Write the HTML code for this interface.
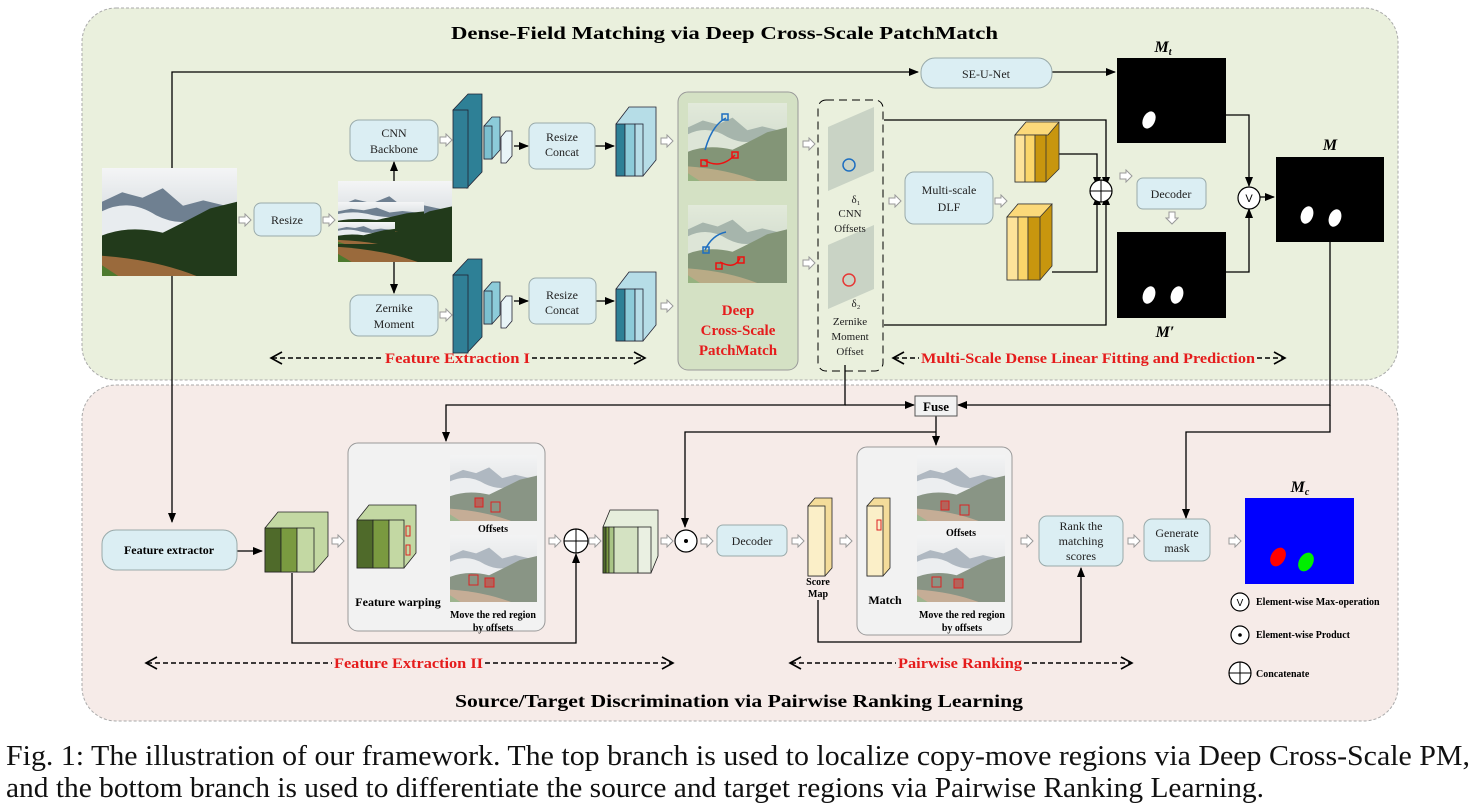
<!DOCTYPE html>
<html><head><meta charset="utf-8"><style>
body{margin:0;background:#fff;}
svg{display:block;font-family:"Liberation Serif",serif;}
</style></head><body>
<svg width="1478" height="808" viewBox="0 0 1478 808" xmlns="http://www.w3.org/2000/svg">
<defs>
<linearGradient id="sky" x1="0" y1="0" x2="0" y2="1">
<stop offset="0" stop-color="#f4f5f6"/><stop offset="0.35" stop-color="#dfe3e6"/><stop offset="1" stop-color="#c9cfd3"/></linearGradient>
<symbol id="photo" viewBox="0 0 100 80" preserveAspectRatio="none">
<rect width="100" height="80" fill="url(#sky)"/>
<path d="M0 25 L15 18 L30 22 L45 15 L60 28 L75 24 L100 30 L100 55 L0 55Z" fill="#6f8091"/>
<path d="M0 32 Q20 22 40 35 Q60 45 75 35 L100 40 L100 55 L0 55Z" fill="#e8ecef"/>
<path d="M0 55 L0 50 Q20 42 45 48 Q65 38 80 30 L100 25 L100 80 L0 80Z" fill="#223a1b"/>
<path d="M0 65 Q40 68 70 80 L0 80Z" fill="#9a6a3c"/>
<path d="M0 72 L0 80 L12 80Z" fill="#4d7a2e"/>
</symbol>
<symbol id="ha" viewBox="0 0 14 14"><path d="M1 4 H7 V1 L13 7 L7 13 V10 H1Z" fill="#fff" stroke="#999" stroke-width="1"/></symbol>
<symbol id="had" viewBox="0 0 14 14"><path d="M4 1 V7 H1 L7 13 L13 7 H10 V1Z" fill="#fff" stroke="#999" stroke-width="1"/></symbol>
<marker id="ar" markerWidth="10" markerHeight="8" refX="9" refY="4" orient="auto" markerUnits="userSpaceOnUse"><path d="M0 0 L10 4 L0 8Z" fill="#000"/></marker>
</defs>

<rect x="82" y="8" width="1316" height="372" rx="34" fill="#eaf0dd" stroke="#aaa" stroke-dasharray="3,2"/>
<rect x="82" y="385" width="1316" height="336" rx="34" fill="#f6ebe8" stroke="#aaa" stroke-dasharray="3,2"/>
<text x="451" y="39" font-size="18" font-weight="bold" textLength="547" lengthAdjust="spacingAndGlyphs">Dense-Field Matching via Deep Cross-Scale PatchMatch</text>
<text x="455" y="707" font-size="18" font-weight="bold" textLength="568" lengthAdjust="spacingAndGlyphs">Source/Target Discrimination via Pairwise Ranking Learning</text>

<g stroke="#000" stroke-width="1.3" fill="none">
<path d="M172 168 V72 H918" marker-end="url(#ar)"/>
<path d="M172 276 V522" marker-end="url(#ar)"/>
<path d="M1052 72 H1115" marker-end="url(#ar)"/>
<path d="M394 181 V162" marker-end="url(#ar)"/>
<path d="M394 262 V293" marker-end="url(#ar)"/>
<path d="M514 146 H528" marker-end="url(#ar)"/>
<path d="M595 146 H614" marker-end="url(#ar)"/>
<path d="M514 301 H528" marker-end="url(#ar)"/>
<path d="M596 301 H614" marker-end="url(#ar)"/>
<path d="M884 120 H1106 V186" marker-end="url(#ar)"/>
<path d="M884 325 H1106 V196" marker-end="url(#ar)"/>
<path d="M1059 154 H1097 V186" marker-end="url(#ar)"/>
<path d="M1052 272 H1097 V196" marker-end="url(#ar)"/>
<path d="M1226 115 H1249 V186" marker-end="url(#ar)"/>
<path d="M1226 272 H1249 V209" marker-end="url(#ar)"/>
<path d="M1260 197 H1274" marker-end="url(#ar)"/>
<path d="M845 365 V405 H446 V441" marker-end="url(#ar)"/>
<path d="M845 405 H914" marker-end="url(#ar)"/>
<path d="M1330 242 V405 H958" marker-end="url(#ar)"/>
<path d="M1330 405 V432 H1186 V518" marker-end="url(#ar)"/>
<path d="M936 416 V445" marker-end="url(#ar)"/>
<path d="M936 432 H685 V527" marker-end="url(#ar)"/>
<path d="M237 551 H262" marker-end="url(#ar)"/>
<path d="M292 573 V643 H576 V554" marker-end="url(#ar)"/>
<path d="M818 600 V642 H1081 V568" marker-end="url(#ar)"/>
<path d="M420 541 H440" stroke-dasharray="3,2" marker-end="url(#ar)"/>
</g>

<use href="#ha" x="238" y="213" width="14" height="14"/>
<use href="#ha" x="322" y="213" width="14" height="14"/>
<use href="#ha" x="439" y="133" width="14" height="14"/>
<use href="#ha" x="439" y="308" width="14" height="14"/>
<use href="#ha" x="660" y="134" width="14" height="14"/>
<use href="#ha" x="660" y="299" width="14" height="14"/>
<use href="#ha" x="802" y="137" width="14" height="14"/>
<use href="#ha" x="802" y="256" width="14" height="14"/>
<use href="#ha" x="888" y="194" width="14" height="14"/>
<use href="#ha" x="994" y="194" width="14" height="14"/>
<use href="#ha" x="1119" y="169" width="14" height="14"/>
<use href="#had" x="1165" y="211" width="14" height="14"/>
<use href="#had" x="730" y="186" width="14" height="14"/>
<use href="#ha" x="331" y="534" width="14" height="14"/>
<use href="#ha" x="548" y="534" width="14" height="14"/>
<use href="#ha" x="588" y="534" width="14" height="14"/>
<use href="#ha" x="660" y="534" width="14" height="14"/>
<use href="#ha" x="700" y="534" width="14" height="14"/>
<use href="#ha" x="791" y="534" width="14" height="14"/>
<use href="#ha" x="839" y="534" width="14" height="14"/>
<use href="#ha" x="1020" y="534" width="14" height="14"/>
<use href="#ha" x="1127" y="534" width="14" height="14"/>
<use href="#ha" x="1228" y="534" width="14" height="14"/>

<use href="#photo" x="102" y="168" width="135" height="108"/>
<use href="#photo" x="338" y="181" width="114" height="81"/>
<use href="#photo" x="338" y="202" width="86" height="30"/>
<use href="#photo" x="338" y="222" width="57" height="22"/>

<g fill="#dbeef3" stroke="#9aa">
<rect x="254" y="203" width="67" height="33" rx="7"/>
<rect x="350" y="120" width="88" height="41" rx="9"/>
<rect x="350" y="295" width="88" height="41" rx="9"/>
<rect x="529" y="123" width="66" height="46" rx="7"/>
<rect x="529" y="278" width="67" height="46" rx="7"/>
<rect x="921" y="58" width="131" height="30" rx="14"/>
<rect x="905" y="172" width="88" height="52" rx="9"/>
<rect x="1137" y="178" width="69" height="31" rx="6"/>
<rect x="102" y="530" width="135" height="40" rx="14"/>
<rect x="717" y="525" width="70" height="31" rx="6"/>
<rect x="1039" y="516" width="84" height="50" rx="8"/>
<rect x="1144" y="519" width="66" height="42" rx="8"/>
</g>
<g font-size="12" text-anchor="middle" fill="#222">
<text x="287" y="224">Resize</text>
<text x="394" y="137">CNN</text><text x="394" y="153">Backbone</text>
<text x="394" y="312">Zernike</text><text x="394" y="328">Moment</text>
<text x="562" y="141">Resize</text><text x="562" y="156">Concat</text>
<text x="562" y="299">Resize</text><text x="562" y="314">Concat</text>
<text x="986" y="78">SE-U-Net</text>
<text x="949" y="194">Multi-scale</text><text x="949" y="211">DLF</text>
<text x="1171" y="198">Decoder</text>
<text x="752" y="545">Decoder</text>
<text x="1081" y="530">Rank the</text><text x="1081" y="545">matching</text><text x="1081" y="560">scores</text>
<text x="1177" y="537">Generate</text><text x="1177" y="552">mask</text>
</g>
<text x="169" y="554" font-size="12" font-weight="bold" text-anchor="middle">Feature extractor</text>

<g stroke="#223" stroke-width="0.8">
<g id="teal1">
<path d="M453 110 L468 94 L482 94 L482 172 L467 188Z" fill="#2e8096"/>
<rect x="453" y="110" width="15" height="78" fill="#307f96"/>
<path d="M484 126 L492 117 L500 117 L500 150 L492 159 L484 159Z" fill="#8ccbd9"/>
<rect x="484" y="126" width="8" height="33" fill="#7cc0d0"/>
<path d="M501 137 L506 131 L512 131 L512 156 L506 163 L501 163Z" fill="#e8f4f7"/>
<path d="M616 124 L629 107 L656 107 L656 160 L643 176 L616 176Z" fill="#b6dde7"/>
<rect x="616" y="124" width="9" height="52" fill="#2e8096"/>
<rect x="625" y="124" width="10" height="52" fill="#8ccbd9"/>
<rect x="635" y="124" width="8" height="52" fill="#b6dde7"/>
</g>
<use href="#teal1" y="165"/>
</g>

<rect x="678" y="92" width="120" height="278" rx="10" fill="#d4e1c4" stroke="#999"/>
<use href="#photo" x="688" y="103" width="99" height="78" opacity="0.45"/>
<use href="#photo" x="688" y="205" width="99" height="78" opacity="0.45"/>
<g fill="none" stroke-width="1.5">
<path d="M705 150 Q712 125 726 118" stroke="#1f6fc0"/><path d="M704 160 Q720 170 735 155" stroke="#e11"/>
<path d="M705 250 Q712 235 726 232" stroke="#1f6fc0"/><path d="M720 262 Q735 270 740 258" stroke="#e11"/>
<rect x="722" y="114" width="6" height="6" stroke="#1f6fc0"/><rect x="701" y="160" width="6" height="6" stroke="#e11"/><rect x="732" y="152" width="6" height="6" stroke="#e11"/>
<rect x="703" y="247" width="6" height="6" stroke="#1f6fc0"/><rect x="738" y="257" width="6" height="6" stroke="#e11"/><rect x="716" y="263" width="6" height="6" stroke="#e11"/>
</g>
<g fill="#e51c1c" font-weight="bold" font-size="15" text-anchor="middle">
<text x="738" y="315">Deep</text><text x="738" y="335">Cross-Scale</text><text x="738" y="355">PatchMatch</text></g>

<rect x="818" y="100" width="65" height="271" rx="8" fill="none" stroke="#000" stroke-dasharray="8,5"/>
<g opacity="0.5">
<svg x="828" y="107" width="46" height="84" viewBox="0 0 46 84" preserveAspectRatio="none"><path d="M0 20 L46 0 L46 64 L0 84Z" fill="#aab7ae"/></svg>
<svg x="828" y="225" width="46" height="84" viewBox="0 0 46 84" preserveAspectRatio="none"><path d="M0 20 L46 0 L46 64 L0 84Z" fill="#aab7ae"/></svg>
</g>
<circle cx="849" cy="165" r="6" fill="none" stroke="#1f6fc0" stroke-width="1.5"/>
<circle cx="849" cy="280" r="6" fill="none" stroke="#e11" stroke-width="1.5" opacity="0.8"/>
<g font-size="11" text-anchor="middle" fill="#222">
<text x="856" y="203">δ₁</text><text x="850" y="217">CNN</text><text x="850" y="232">Offsets</text>
<text x="856" y="307">δ₂</text><text x="850" y="325">Zernike</text><text x="850" y="340">Moment</text><text x="850" y="355">Offset</text>
</g>

<g stroke="#333" stroke-width="0.8">
<path d="M1015 135 L1026 122 L1059 122 L1059 169 L1046 182 L1015 182Z" fill="#c8960e"/>
<path d="M1015 135 L1026 122 L1059 122 L1048 135Z" fill="#fbd97a"/>
<rect x="1015" y="135" width="10" height="47" fill="#fde39a"/><rect x="1025" y="135" width="10" height="47" fill="#fbd66a"/><rect x="1035" y="135" width="11" height="47" fill="#c8960e"/>
<path d="M1007 217 L1018 204 L1052 204 L1052 266 L1040 280 L1007 280Z" fill="#c8960e"/>
<path d="M1007 217 L1018 204 L1052 204 L1040 217Z" fill="#fbd97a"/>
<rect x="1007" y="217" width="11" height="63" fill="#fde39a"/><rect x="1018" y="217" width="10" height="63" fill="#fbd66a"/><rect x="1028" y="217" width="12" height="63" fill="#c8960e"/>
</g>
<g fill="#fff" stroke="#000" stroke-width="1.2">
<circle cx="1101" cy="191" r="11"/><circle cx="1249" cy="198" r="11"/>
<circle cx="576" cy="541" r="12"/><circle cx="686" cy="541" r="11"/>
<circle cx="1240" cy="602" r="9"/><circle cx="1240" cy="635" r="9"/><circle cx="1240" cy="673" r="11"/>
</g>
<g stroke="#000" stroke-width="1"><path d="M1090 191 H1112 M1101 180 V202"/><path d="M564 541 H588 M576 529 V553"/><path d="M1229 673 H1251 M1240 662 V684"/></g>
<circle cx="686" cy="541" r="2" fill="#000"/><circle cx="1240" cy="635" r="1.8" fill="#000"/>
<text x="1249" y="202" font-size="11" text-anchor="middle" font-family="Liberation Sans,sans-serif">V</text>
<text x="1240" y="606" font-size="10" text-anchor="middle" font-family="Liberation Sans,sans-serif">V</text>

<rect x="1117" y="58" width="109" height="85" fill="#000"/>
<ellipse cx="1149" cy="120" rx="6" ry="9" fill="#fff" transform="rotate(25 1149 120)"/>
<rect x="1117" y="232" width="109" height="86" fill="#000"/>
<ellipse cx="1149" cy="295" rx="6" ry="9" fill="#fff" transform="rotate(20 1149 295)"/>
<ellipse cx="1177" cy="295" rx="6" ry="9" fill="#fff" transform="rotate(20 1177 295)"/>
<rect x="1276" y="157" width="108" height="85" fill="#000"/>
<ellipse cx="1307" cy="215" rx="6" ry="9" fill="#fff" transform="rotate(20 1307 215)"/>
<ellipse cx="1335" cy="218" rx="6" ry="9" fill="#fff" transform="rotate(20 1335 218)"/>
<g font-weight="bold" font-style="italic" font-size="16" text-anchor="middle">
<text x="1163" y="52">M<tspan font-size="10" dy="3">t</tspan></text>
<text x="1165" y="337">M′</text>
<text x="1330" y="150">M</text>
<text x="1300" y="492">M<tspan font-size="10" dy="3">c</tspan></text>
</g>
<rect x="1245" y="498" width="109" height="86" fill="#0000ff"/>
<ellipse cx="1278" cy="557" rx="7" ry="10" fill="#ff0000" transform="rotate(30 1278 557)"/>
<ellipse cx="1306" cy="562" rx="7" ry="10" fill="#00ee00" transform="rotate(30 1306 562)"/>
<g font-size="10" font-weight="bold">
<text x="1256" y="605">Element-wise Max-operation</text>
<text x="1256" y="638">Element-wise Product</text>
<text x="1256" y="677">Concatenate</text>
</g>

<g stroke="#000" stroke-width="1.6" fill="none">
<path d="M282 352 L271 358 L282 364 M634 352 L645 358 L634 364"/>
<path d="M272 358 H383 M532 358 H643" stroke-dasharray="5,3"/>
<path d="M904 352 L893 358 L904 364 M1274 352 L1285 358 L1274 364"/>
<path d="M894 358 H919 M1257 358 H1284" stroke-dasharray="5,3"/>
<path d="M157 657 L146 663 L157 669 M662 657 L673 663 L662 669"/>
<path d="M147 663 H332 M485 663 H672" stroke-dasharray="5,3"/>
<path d="M801 657 L790 663 L801 669 M1121 657 L1132 663 L1121 669"/>
<path d="M791 663 H896 M1024 663 H1131" stroke-dasharray="5,3"/>
</g>
<g font-weight="bold" font-size="15" fill="#e51c1c">
<text x="385" y="363" textLength="145" lengthAdjust="spacingAndGlyphs">Feature Extraction I</text>
<text x="921" y="363" textLength="334" lengthAdjust="spacingAndGlyphs">Multi-Scale Dense Linear Fitting and Prediction</text>
<text x="334" y="668" textLength="149" lengthAdjust="spacingAndGlyphs">Feature Extraction II</text>
<text x="898" y="668" textLength="124" lengthAdjust="spacingAndGlyphs">Pairwise Ranking</text>
</g>

<rect x="348" y="443" width="197" height="188" rx="10" fill="#f2f2f2" stroke="#999"/>
<rect x="857" y="447" width="155" height="188" rx="10" fill="#f2f2f2" stroke="#999"/>
<use href="#photo" x="450" y="455" width="87" height="66" opacity="0.5"/>
<use href="#photo" x="450" y="535" width="87" height="67" opacity="0.5"/>
<use href="#photo" x="917" y="455" width="88" height="66" opacity="0.5"/>
<use href="#photo" x="917" y="535" width="88" height="67" opacity="0.5"/>
<g fill="rgba(230,40,40,0.45)" stroke="#d22" stroke-width="1">
<rect x="475" y="498" width="8" height="9"/><rect x="485" y="578" width="9" height="9"/>
<rect x="941" y="501" width="8" height="9"/><rect x="954" y="579" width="9" height="9"/>
</g>
<g fill="none" stroke="#d22"><rect x="491" y="502" width="9" height="10"/><rect x="469" y="575" width="9" height="10"/><rect x="960" y="505" width="9" height="10"/><rect x="932" y="577" width="9" height="10"/></g>
<g font-size="10" font-weight="bold" text-anchor="middle">
<text x="493" y="532">Offsets</text>
<text x="493" y="618">Move the red region</text><text x="493" y="631">by offsets</text>
<text x="961" y="536">Offsets</text>
<text x="962" y="618">Move the red region</text><text x="962" y="631">by offsets</text>
<text x="818" y="585">Score</text><text x="818" y="597">Map</text>
</g>
<text x="398" y="606" font-size="12" font-weight="bold" text-anchor="middle">Feature warping</text>
<text x="885" y="604" font-size="12" font-weight="bold" text-anchor="middle">Match</text>

<g stroke="#222" stroke-width="0.8">
<path d="M265 528 L278 512 L328 512 L328 556 L314 572 L265 572Z" fill="#c3d8a3"/>
<rect x="265" y="528" width="16" height="44" fill="#4f6a2a"/><rect x="281" y="528" width="16" height="44" fill="#7a9a40"/><rect x="297" y="528" width="17" height="44" fill="#c3d8a3"/>
<path d="M357 520 L369 505 L416 505 L416 553 L404 568 L357 568Z" fill="#c3d8a3"/>
<rect x="357" y="520" width="16" height="48" fill="#4f6a2a"/><rect x="373" y="520" width="16" height="48" fill="#7a9a40"/><rect x="389" y="520" width="15" height="48" fill="#c3d8a3"/>
<path d="M603 527 L610 510 L658 510 L658 556 L651 573 L603 573Z" fill="#e6eedc"/>
<rect x="603" y="527" width="3" height="46" fill="#4f6a2a"/><rect x="606" y="527" width="3" height="46" fill="#7a9a40"/><rect x="609" y="527" width="5" height="46" fill="#a9c486"/><rect x="614" y="527" width="24" height="46" fill="#d4e2c2"/><rect x="638" y="527" width="13" height="46" fill="#eaf0e2"/>
<path d="M808 506 L815 498 L832 498 L832 568 L825 576 L808 576Z" fill="#f4dc9a"/>
<rect x="808" y="506" width="17" height="70" fill="#fbefc8"/>
<path d="M867 506 L874 498 L890 498 L890 568 L883 576 L867 576Z" fill="#f4dc9a"/>
<rect x="867" y="506" width="16" height="70" fill="#fbefc8"/>
</g>
<rect x="406" y="526" width="4" height="10" fill="none" stroke="#d22"/><rect x="406" y="545" width="4" height="10" fill="none" stroke="#d22"/>
<rect x="877" y="520" width="4" height="10" fill="none" stroke="#d22"/>

<rect x="915" y="396" width="42" height="20" fill="#f2f2f2" stroke="#555"/>
<text x="936" y="411" font-size="13" font-weight="bold" text-anchor="middle">Fuse</text>

<g font-size="28" fill="#111">
<text x="6" y="765" textLength="1464" lengthAdjust="spacingAndGlyphs">Fig. 1: The illustration of our framework. The top branch is used to localize copy-move regions via Deep Cross-Scale PM,</text>
<text x="6" y="797" textLength="1258" lengthAdjust="spacingAndGlyphs">and the bottom branch is used to differentiate the source and target regions via Pairwise Ranking Learning.</text>
</g>
</svg>
</body></html>
